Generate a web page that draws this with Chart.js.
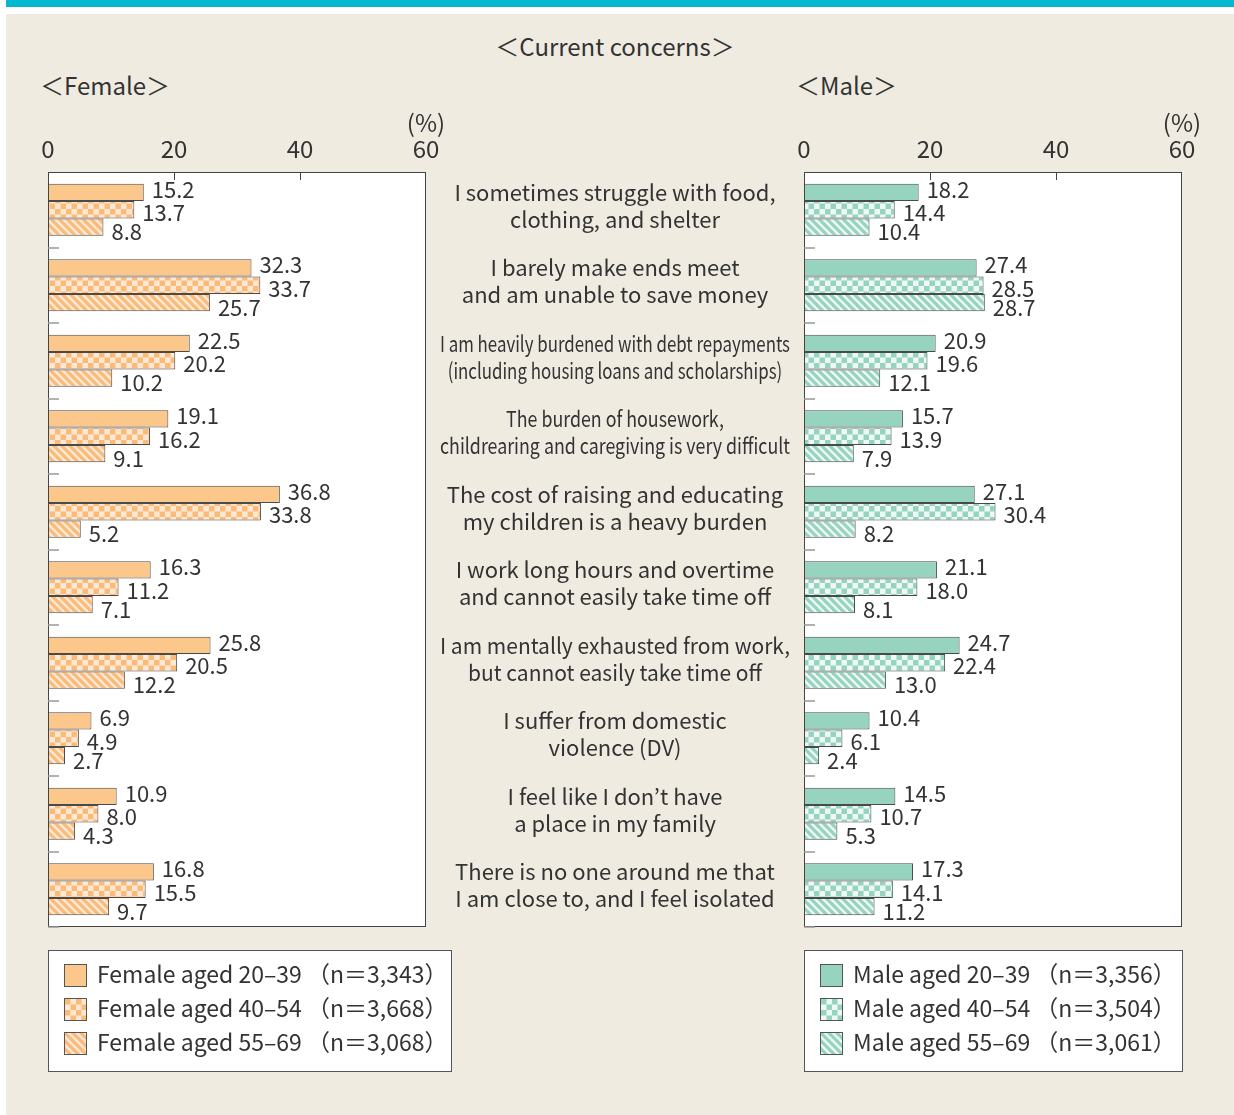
<!DOCTYPE html>
<html>
<head>
<meta charset="utf-8">
<script src="https://cdn.jsdelivr.net/npm/chart.js@4"></script>
<style>
  body { margin: 0; width: 1234px; height: 1115px; position: relative; overflow: hidden; background: #fff;
         font-family: 'Noto Sans CJK JP', 'Noto Sans', sans-serif; color: #333; }
  .abs { position: absolute; }
  #topbar { left: 6px; top: 0; width: 1228px; height: 7px; background: #04b9cf; }
  #panel { left: 6px; top: 14px; width: 1228px; height: 1101px; background: #efebe1; }
  .title { font-size: 24px; line-height: 30px; height: 30px; white-space: nowrap; }
  canvas.chart { position: absolute; left: 0; top: 0; }
  .legend { position: absolute; background: #fff; border: 1px solid #555; box-sizing: border-box;
            padding-top: 5px; }
  .legend .row { height: 34px; line-height: 34px; font-size: 23px; display: flex; align-items: center; white-space: nowrap; }
  .legend canvas { border: 1px solid #555; margin-left: 15px; margin-right: 10px; margin-top: 5px; }
</style>
</head>
<body>
<div id="topbar" class="abs"></div>
<div id="panel" class="abs"></div>
<div class="abs title" style="left:0; width:1230px; top:31px; text-align:center;">＜Current concerns＞</div>
<div class="abs title" style="left:40px; top:70px;">＜Female＞</div>
<div class="abs title" style="left:796px; top:70px;">＜Male＞</div>
<canvas id="femaleChart" class="chart" width="1234" height="1115"></canvas>
<canvas id="maleChart" class="chart" width="1234" height="1115"></canvas>
<div id="femaleLegend" class="legend" style="left:48px; top:950px; width:404px; height:122px;"></div>
<div id="maleLegend" class="legend" style="left:804px; top:950px; width:379px; height:122px;"></div>
<script>
// categories (two lines each) and values in %
var categories = [
  ["I sometimes struggle with food,", "clothing, and shelter"],
  ["I barely make ends meet", "and am unable to save money"],
  ["I am heavily burdened with debt repayments", "(including housing loans and scholarships)"],
  ["The burden of housework,", "childrearing and caregiving is very difficult"],
  ["The cost of raising and educating", "my children is a heavy burden"],
  ["I work long hours and overtime", "and cannot easily take time off"],
  ["I am mentally exhausted from work,", "but cannot easily take time off"],
  ["I suffer from domestic", "violence (DV)"],
  ["I feel like I don’t have", "a place in my family"],
  ["There is no one around me that", "I am close to, and I feel isolated"]
];
var xTicks = [0, 20, 40, 60];

var femaleNames = ["Female aged 20–39", "Female aged 40–54", "Female aged 55–69"];
var femaleN = ["3,343", "3,668", "3,068"];
var female2039 = [15.2, 32.3, 22.5, 19.1, 36.8, 16.3, 25.8, 6.9, 10.9, 16.8];
var female4054 = [13.7, 33.7, 20.2, 16.2, 33.8, 11.2, 20.5, 4.9, 8.0, 15.5];
var female5569 = [8.8, 25.7, 10.2, 9.1, 5.2, 7.1, 12.2, 2.7, 4.3, 9.7];

var maleNames = ["Male aged 20–39", "Male aged 40–54", "Male aged 55–69"];
var maleN = ["3,356", "3,504", "3,061"];
var male2039 = [18.2, 27.4, 20.9, 15.7, 27.1, 21.1, 24.7, 10.4, 14.5, 17.3];
var male4054 = [14.4, 28.5, 19.6, 13.9, 30.4, 18.0, 22.4, 6.1, 10.7, 14.1];
var male5569 = [10.4, 28.7, 12.1, 7.9, 8.2, 8.1, 13.0, 2.4, 5.3, 11.2];

var FONT = "'Noto Sans CJK JP', 'Noto Sans', sans-serif";
var TEXT = '#333';

// fill styles: plain, checkerboard, diagonal hatch
function makeFill(kind, dark, light) {
  if (kind === 'solid') return dark;
  var s = kind === 'check' ? 11 : 8;
  var c = document.createElement('canvas');
  c.width = s; c.height = s;
  var g = c.getContext('2d');
  g.fillStyle = light;
  g.fillRect(0, 0, s, s);
  g.fillStyle = dark;
  g.strokeStyle = dark;
  if (kind === 'check') {
    g.fillRect(0, 0, 5.5, 5.5);
    g.fillRect(5.5, 5.5, 5.5, 5.5);
  } else {
    g.lineWidth = 3.2;
    for (var k = -1; k <= 1; k++) {
      g.beginPath();
      g.moveTo(k * s - 1, -1);
      g.lineTo(k * s + s + 1, s + 1);
      g.stroke();
    }
  }
  return g.createPattern(c, 'repeat');
}

var femaleFills = [makeFill('solid', '#fcc78b'), makeFill('check', '#fbbb78', '#fde8d5'), makeFill('stripe', '#fbbb78', '#fde8d5')];
var maleFills = [makeFill('solid', '#96d4c0'), makeFill('check', '#96d4c0', '#eef9f4'), makeFill('stripe', '#96d4c0', '#eef9f4')];

var labelShift = [-3, 3, 5];

var panelDecor = {
  id: 'panelDecor',
  beforeDatasetsDraw: function(chart) {
    var a = chart.chartArea, ctx = chart.ctx;
    ctx.save();
    ctx.fillStyle = '#fff';
    ctx.fillRect(a.left, a.top, a.right - a.left, a.bottom - a.top);
    ctx.restore();
  },
  afterDatasetsDraw: function(chart, args, opts) {
    var a = chart.chartArea, ctx = chart.ctx;
    var x = chart.scales.x, y = chart.scales.y;
    ctx.save();
    // frame
    ctx.strokeStyle = '#444';
    ctx.lineWidth = 1;
    ctx.strokeRect(a.left + 0.5, a.top + 0.5, a.right - a.left - 1, a.bottom - a.top - 1);
    // inner ticks on top edge
    xTicks.slice(1, -1).forEach(function(v) {
      var px = Math.round(x.getPixelForValue(v)) + 0.5;
      ctx.beginPath();
      ctx.moveTo(px, a.top);
      ctx.lineTo(px, a.top + 8);
      ctx.stroke();
    });
    // category boundary ticks on the left edge
    var band = y.getPixelForValue(1) - y.getPixelForValue(0);
    ctx.strokeStyle = '#999';
    ctx.lineWidth = 1.5;
    for (var i = 0; i < categories.length; i++) {
      var py = Math.round(y.getPixelForValue(i) + band / 2);
      ctx.beginPath();
      ctx.moveTo(a.left, py);
      ctx.lineTo(a.left + 11, py);
      ctx.stroke();
    }
    // axis labels
    ctx.fillStyle = TEXT;
    ctx.font = '24px ' + FONT;
    ctx.textAlign = 'center';
    ctx.textBaseline = 'middle';
    xTicks.forEach(function(v) {
      ctx.fillText(String(v), x.getPixelForValue(v), 149);
    });
    ctx.fillText('(%)', x.getPixelForValue(xTicks[xTicks.length - 1]), 123);
    // value labels
    ctx.font = '22px ' + FONT;
    ctx.textAlign = 'left';
    chart.data.datasets.forEach(function(ds, di) {
      chart.getDatasetMeta(di).data.forEach(function(el, j) {
        ctx.fillText(ds.data[j].toFixed(1), el.x + 8, el.y + labelShift[di]);
      });
    });
    // category texts in the middle column
    if (opts.labelsX) {
      ctx.font = '22px ' + FONT;
      ctx.textAlign = 'center';
      categories.forEach(function(lines, i) {
        var cy = y.getPixelForValue(i) - 4;
        var w = Math.max.apply(null, lines.map(function(t) { return ctx.measureText(t).width; }));
        var sx = Math.min(1, 350 / w);
        lines.forEach(function(t, k) {
          ctx.save();
          ctx.translate(opts.labelsX, cy + (k - 0.5) * 27);
          ctx.scale(sx, 1);
          ctx.fillText(t, 0, 0);
          ctx.restore();
        });
      });
    }
    ctx.restore();
  }
};

function drawPanel(id, series, names, fills, left, right, labelsX) {
  return new Chart(document.getElementById(id), {
    type: 'bar',
    data: {
      labels: categories.map(function(c) { return c.join(' '); }),
      datasets: series.map(function(d, i) {
        return {
          label: names[i],
          data: d,
          backgroundColor: fills[i],
          borderColor: '#4a4a4a',
          borderWidth: 1,
          borderSkipped: 'start'
        };
      })
    },
    options: {
      indexAxis: 'y',
      responsive: false,
      animation: false,
      layout: { padding: { left: left, right: 1234 - right, top: 172, bottom: 1115 - 927 } },
      datasets: { bar: { categoryPercentage: 0.69, barPercentage: 1 } },
      scales: {
        x: { display: false, min: xTicks[0], max: xTicks[xTicks.length - 1] },
        y: { display: false }
      },
      plugins: {
        legend: { display: false },
        tooltip: { enabled: false },
        panelDecor: { labelsX: labelsX }
      }
    },
    plugins: [panelDecor]
  });
}

drawPanel('femaleChart', [female2039, female4054, female5569], femaleNames, femaleFills, 48, 426, null);
drawPanel('maleChart', [male2039, male4054, male5569], maleNames, maleFills, 804, 1182, 615);

// legends
function buildLegend(id, names, ns, fills) {
  var box = document.getElementById(id);
  names.forEach(function(name, i) {
    var row = document.createElement('div');
    row.className = 'row';
    var sw = document.createElement('canvas');
    sw.width = 21; sw.height = 21;
    var g = sw.getContext('2d');
    g.fillStyle = fills[i];
    g.fillRect(0, 0, 21, 21);
    var txt = document.createElement('span');
    txt.textContent = name + ' （n＝' + ns[i] + '）';
    txt.style.whiteSpace = 'pre';
    row.appendChild(sw);
    row.appendChild(txt);
    box.appendChild(row);
  });
}
buildLegend('femaleLegend', femaleNames, femaleN, femaleFills);
buildLegend('maleLegend', maleNames, maleN, maleFills);
</script>
</body>
</html>
